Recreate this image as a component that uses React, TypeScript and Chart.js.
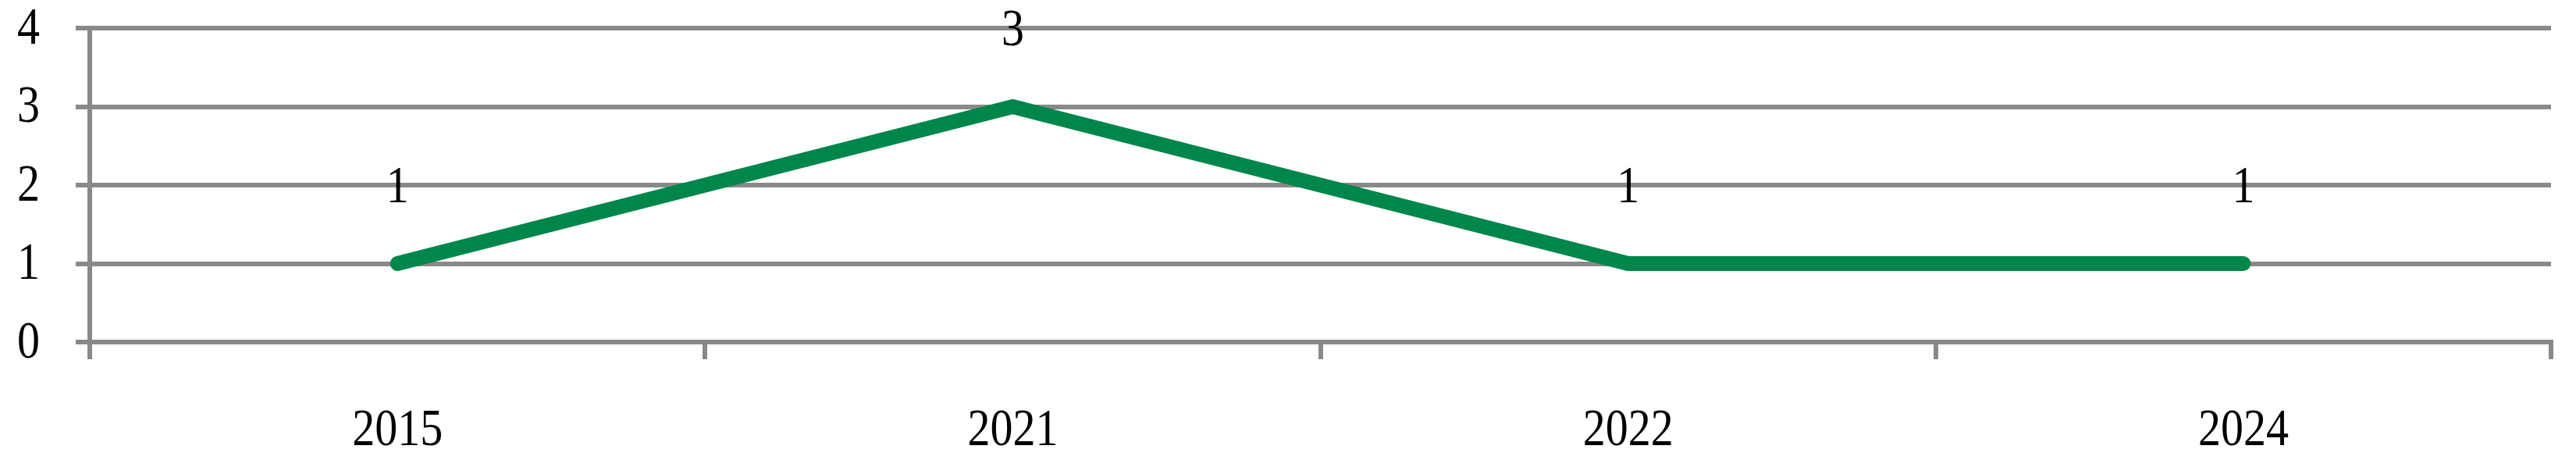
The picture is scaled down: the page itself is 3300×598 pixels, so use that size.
import React, { useEffect, useRef } from "react";
import { Chart, registerables } from "chart.js";

Chart.register(...registerables);

const categories: string[] = ["2015", "2021", "2022", "2024"];
const values: number[] = [1, 3, 1, 1];
const yTicks: number[] = [0, 1, 2, 3, 4];

const GRID = "#898989";
const GREEN = "#00864A";
const FONT = '"Liberation Serif", "Times New Roman", serif';
const FONT_SIZE = 58;
const STRETCH = 1.15;

function drawStretched(ctx: any, text: string, x: number, y: number, align: string) {
  ctx.save();
  ctx.translate(x, y);
  ctx.scale(1, STRETCH);
  ctx.textAlign = align;
  ctx.textBaseline = "middle";
  ctx.fillText(text, 0, 0);
  ctx.restore();
}

const stretchedLabels = {
  id: "stretchedLabels",
  afterDraw(chart: any) {
    const ctx = chart.ctx;
    ctx.save();
    ctx.font = `${FONT_SIZE}px ${FONT}`;
    ctx.fillStyle = "#000000";
    const xs = chart.scales.x;
    xs.ticks.forEach((t: any, i: number) => {
      drawStretched(ctx, String(xs.getLabelForValue(t.value)), xs.getPixelForTick(i), xs.top + 114, "center");
    });
    const ys = chart.scales.y;
    ys.ticks.forEach((t: any, i: number) => {
      drawStretched(ctx, String(t.value), ys.right - 18 - 46, ys.getPixelForTick(i) + 2, "right");
    });
    const meta = chart.getDatasetMeta(0);
    meta.data.forEach((el: any, i: number) => {
      drawStretched(ctx, String(values[i]), el.x, el.y - 96, "center");
    });
    ctx.restore();
  },
};

export default function App() {
  const ref = useRef<HTMLCanvasElement | null>(null);
  useEffect(() => {
    if (!ref.current) return;
    const chart = new Chart(ref.current, {
      type: "line",
      data: {
        labels: categories,
        datasets: [
          {
            data: values,
            borderColor: GREEN,
            backgroundColor: GREEN,
            borderWidth: 19,
            borderCapStyle: "round",
            borderJoinStyle: "miter",
            pointRadius: 0,
            pointHoverRadius: 0,
            tension: 0,
            clip: false as any,
          },
        ],
      },
      options: {
        responsive: false,
        animation: false,
        devicePixelRatio: 1,
        layout: { padding: { top: 36, right: 32, left: 0, bottom: 0 } },
        plugins: {
          legend: { display: false },
          tooltip: { enabled: false },
        },
        scales: {
          x: {
            type: "category",
            offset: true,
            grid: {
              offset: true,
              drawOnChartArea: false,
              drawTicks: true,
              tickLength: 22,
              lineWidth: 6,
              color: GRID,
            },
            border: { display: true, width: 6, color: GRID },
            ticks: {
              color: "rgba(0,0,0,0)",
              font: { family: FONT, size: FONT_SIZE },
              padding: 52,
              maxRotation: 0,
              autoSkip: false,
            },
            afterFit(scale: any) {
              scale.height = 160;
              scale.paddingLeft = 0;
              scale.paddingRight = 0;
            },
          },
          y: {
            min: 0,
            max: 4,
            afterBuildTicks(scale: any) {
              scale.ticks = yTicks.map((v) => ({ value: v }));
            },
            grid: {
              drawTicks: true,
              tickLength: 18,
              lineWidth: 6,
              color: GRID,
            },
            border: { display: true, width: 6, color: GRID },
            ticks: {
              color: "rgba(0,0,0,0)",
              font: { family: FONT, size: FONT_SIZE },
              padding: 46,
            },
            afterFit(scale: any) {
              scale.width = 115;
              scale.paddingTop = 0;
              scale.paddingBottom = 0;
            },
          },
        },
      },
      plugins: [stretchedLabels],
    });
    return () => chart.destroy();
  }, []);
  return (
    <div style={{ position: "fixed", left: 0, top: 0, width: 3300, height: 598, background: "#ffffff" }}>
      <canvas ref={ref} width={3300} height={598} style={{ display: "block" }} />
    </div>
  );
}
